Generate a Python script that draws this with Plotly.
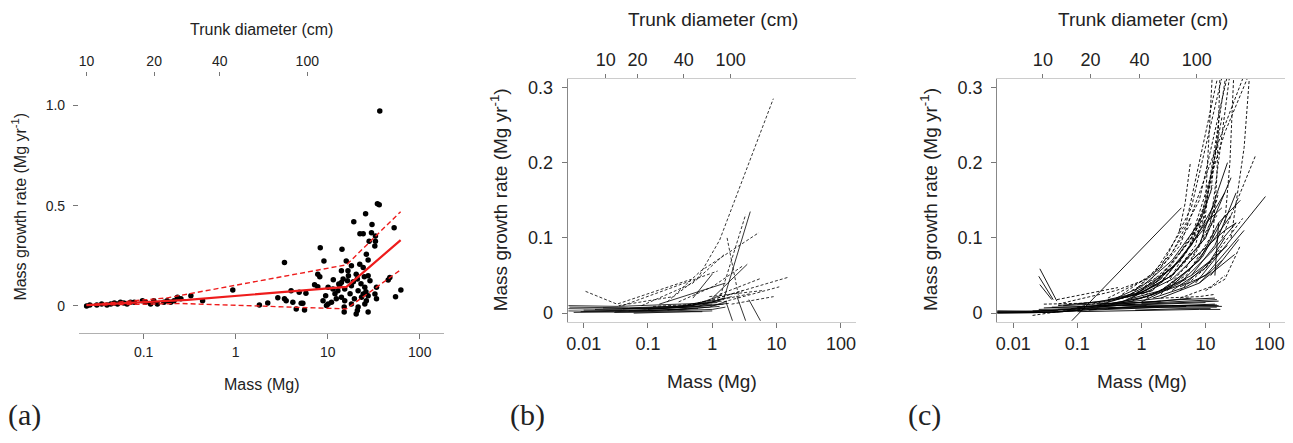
import plotly.graph_objects as go

# page offsets the plot div by the default 8px body margin
PAGE_W, PAGE_H, OFF = 1293, 443, 8
W, H = PAGE_W - OFF, PAGE_H - OFF

# --- (a) individual trees: mass (Mg) vs mass growth rate (Mg/yr) ---
mass_a = [36.8, 34.7, 36.3, 25.8, 19.2, 30.3, 52.7, 22.4, 24.3, 29.9, 33, 33, 32.5, 28.2,
          8.3, 14.3, 26.3, 3.39, 9.1, 27.5, 15.9, 18.1, 22.3, 24.3, 14.1, 7.8, 8.2,
          16.6, 16.8, 16.4, 20.4, 21, 25, 27.5, 28.8, 14.7, 14.1, 13.2, 47.3, 45.4,
          7.2, 7.8, 10.1, 11.4, 12.9, 15.3, 18.1, 21.4, 25.3, 24.3, 27.5, 33.9, 62.4, 54.6,
          4.0, 4.9, 5.8, 2.87, 3.39, 3.54, 4.18, 5.15, 5.37, 4.55, 5.6, 1.81, 2.23,
          8.9, 10.1, 11, 9.7, 12.4, 14.1, 15.3, 15.1, 15.1, 18.1, 19.5, 21.4, 20.4, 21,
          23.3, 26.3, 25.3, 27.5, 33.9, 32.6, 0.93,
          12, 13.5, 11.5, 17.5, 19, 23, 26, 9.5,
          0.437, 0.326, 0.233, 0.214, 0.254, 0.18, 0.166, 0.197, 0.129, 0.119, 0.141,
          0.097, 0.105, 0.072, 0.079, 0.066, 0.056, 0.061, 0.052, 0.044, 0.040, 0.048,
          0.031, 0.035, 0.026, 0.024]
growth_a = [0.972, 0.51, 0.505, 0.46, 0.42, 0.406, 0.39, 0.36, 0.36, 0.365, 0.348, 0.323, 0.299, 0.323,
            0.29, 0.282, 0.257, 0.216, 0.224, 0.229, 0.224, 0.2, 0.208, 0.192, 0.175, 0.158, 0.145,
            0.175, 0.15, 0.125, 0.158, 0.134, 0.145, 0.15, 0.125, 0.134, 0.117, 0.109, 0.142, 0.129,
            0.105, 0.096, 0.093, 0.084, 0.076, 0.084, 0.1, 0.076, 0.093, 0.059, 0.051, 0.093, 0.079, 0.046,
            0.076, 0.068, 0.063, 0.04, 0.035, 0.026, 0.018, 0.013, 0.013, -0.015, -0.02, 0.005, 0.015,
            0.026, 0.01, 0.018, 0.002, 0.035, 0.043, 0.026, -0.031, -0.006, 0.01, 0.035, -0.006, -0.04, -0.023,
            0.043, 0.026, 0.01, -0.031, 0.035, 0.059, 0.079,
            0.06, 0.1, 0.13, 0.06, 0.12, 0.11, 0.07, 0.05,
            0.026, 0.051, 0.043, 0.026, 0.035, 0.026, 0.018, 0.018, 0.026, 0.01, 0.01,
            0.026, 0.018, 0.018, 0.018, 0.01, 0.018, 0.014, 0.01, 0.01, 0.005, 0.014,
            0.005, 0.01, 0.005, 0.0]

# fitted piecewise model and its bounds
fit_mass = [0.024, 0.3, 16, 62]
fit_mid = [0.004, 0.03, 0.095, 0.328]
fit_up_mass = [0.024, 0.18, 16, 62]
fit_up = [0.005, 0.04, 0.205, 0.47]
fit_lo_mass = [0.024, 0.25, 16, 62]
fit_lo = [0.003, 0.012, -0.015, 0.18]

# trunk diameter ticks (cm) and the mass they sit at on each panel
diam_labels = ["10", "20", "40", "100"]
diam_mass_a = [0.024, 0.13, 0.67, 6.0]
diam_mass_b = [0.022, 0.069, 0.36, 1.93]
diam_mass_c = [0.029, 0.16, 0.93, 7.3]

# --- (b) growth trajectories: [(mass, growth), ...] ---
lines_b_solid = [
    [(0.0058, 0.010), (0.035, 0.009), (0.3, 0.012), (1.2, 0.014)],
    [(0.0058, 0.003), (0.03, 0.002), (0.2, 0.004), (0.6, 0.006)],
    [(0.0058, 0.006), (0.04, 0.005), (0.5, 0.008), (1.5, 0.012)],
    [(0.007, 0.001), (0.1, 0.002), (1.0, 0.005), (1.6, 0.008)],
    [(0.01, 0.004), (0.08, 0.003), (0.4, 0.006)],
    [(0.02, 0.007), (0.15, 0.006), (0.8, 0.010), (1.8, 0.013)],
    [(0.05, 0.003), (0.3, 0.005), (1.3, 0.009)],
    [(0.2, 0.004), (0.9, 0.008), (1.7, 0.016)],
    [(0.03, 0.001), (0.2, 0.001), (0.7, 0.002)],
    [(0.006, 0.008), (0.05, 0.007), (0.4, 0.010), (1.4, 0.016)],
    [(0.009, 0.002), (0.06, 0.004), (0.6, 0.009), (1.5, 0.020)],
    [(0.015, 0.005), (0.12, 0.007), (1.0, 0.012)],
    [(0.04, 0.006), (0.3, 0.009), (1.1, 0.018)],
    [(0.1, 0.005), (0.5, 0.010), (1.4, 0.024)],
    [(0.3, 0.008), (1.0, 0.015), (2.0, 0.022)],
    [(0.06, 0.0), (0.4, 0.002), (1.0, 0.003)],
    [(1.5, 0.018), (3.9, 0.135)],
    [(1.0, 0.020), (3.5, 0.065)],
    [(1.62, 0.016), (2.06, -0.010)],
    [(2.4, 0.023), (3.3, -0.010)],
    [(3.7, 0.018), (5.6, -0.010)],
    [(0.5, 0.020), (1.0, 0.052)],
    [(0.15, 0.012), (1.6, 0.040)],
]
lines_b_dash = [
    [(0.0107, 0.029), (0.033, 0.012), (0.47, 0.045)],
    [(0.035, 0.010), (0.25, 0.022), (0.6, 0.047), (1.3, 0.097), (8.9, 0.285)],
    [(0.04, 0.010), (1.21, 0.056)],
    [(0.08, 0.010), (0.5, 0.040), (1.54, 0.078)],
    [(0.2, 0.015), (0.66, 0.056), (5.3, 0.107)],
    [(1.34, 0.023), (3.3, 0.131)],
    [(1.7, 0.100), (2.1, 0.060), (2.6, 0.020)],
    [(1.2, 0.020), (15.6, 0.048)],
    [(1.5, 0.015), (11, 0.035)],
    [(1.3, 0.025), (5.6, 0.046)],
    [(0.3, 0.015), (1.0, 0.035), (3.0, 0.063)],
    [(0.9, 0.022), (6.0, 0.030)],
    [(2.0, 0.012), (9.0, 0.022)],
    [(0.12, 0.009), (0.6, 0.012), (1.5, 0.018)],
    [(0.5, 0.012), (1.2, 0.020), (3.0, 0.030)],
    [(0.7, 0.015), (1.8, 0.020), (4.0, 0.026)],
]

# --- (c) growth trajectories ---
lines_c_solid = [
    [(0.0056, 0.0005), (0.03, 0.001), (0.1, 0.003)],
    [(0.0056, 0.0015), (0.05, 0.002), (0.2, 0.005)],
    [(0.0056, 0.0), (0.02, 0.0005), (0.06, 0.002)],
    [(0.0056, 0.001), (0.04, 0.001), (0.12, 0.004)],
    [(0.0056, 0.0025), (0.03, 0.003), (0.08, 0.005)],
    [(0.0056, 0.003), (0.02, 0.002), (0.05, 0.004)],
    [(0.025, 0.005), (0.1, 0.006), (0.4, 0.010)],
    [(0.04, 0.008), (0.2, 0.008), (0.8, 0.012)],
    [(0.06, 0.003), (0.3, 0.006), (1.2, 0.010)],
    [(0.1, 0.008), (0.5, 0.012), (2.0, 0.016)],
    [(0.15, 0.004), (1.0, 0.007), (5.0, 0.009)],
    [(0.3, 0.006), (2.0, 0.008), (15, 0.008)],
    [(0.5, 0.010), (3.0, 0.010), (16, 0.010)],
    [(0.8, 0.004), (4.0, 0.006), (12, 0.006)],
    [(1.0, 0.013), (5.0, 0.016), (15, 0.018)],
    [(3.0, 0.010), (10, 0.010), (18, 0.009)],
    [(0.2, 0.012), (1.5, 0.015), (6.0, 0.020)],
    [(0.02, 0.003), (0.2, 0.006), (2, 0.010), (14, 0.012)],
    [(0.03, 0.007), (0.3, 0.010), (3, 0.014), (16, 0.016)],
    [(0.05, 0.005), (0.5, 0.008), (6, 0.010), (15, 0.011)],
    [(0.1, 0.002), (1, 0.004), (8, 0.005), (17, 0.005)],
    [(0.4, 0.012), (4, 0.018), (14, 0.020)],
    [(0.15, 0.009), (1.5, 0.012), (10, 0.014)],
    [(0.06, 0.010), (0.5, 0.014), (2, 0.020)],
    [(0.05, 0.010), (0.2, 0.015), (0.6, 0.022), (1.5, 0.030)],
    [(0.08, 0.006), (0.3, 0.012), (1, 0.020), (3, 0.035)],
    [(0.1, 0.012), (0.4, 0.018), (1.2, 0.028)],
    [(0.2, 0.008), (0.7, 0.016), (2, 0.028), (5, 0.040)],
    [(0.026, 0.059), (0.048, 0.016)],
    [(0.025, 0.049), (0.042, 0.018)],
    [(0.026, 0.038), (0.040, 0.018)],
    [(0.082, -0.010), (4.2, 0.140)],
    [(7, 0.04), (86, 0.155)],
    [(8, 0.04), (28.5, 0.078)],
    [(12, 0.05), (33, 0.098)],
    [(0.4, 0.02), (1, 0.035), (3, 0.07), (8, 0.12)],
    [(0.5, 0.015), (2, 0.04), (6, 0.09), (15, 0.15)],
    [(0.7, 0.02), (3, 0.05), (10, 0.1), (25, 0.18)],
    [(1, 0.015), (4, 0.04), (12, 0.08), (30, 0.12)],
    [(6, 0.05), (14, 0.09), (30, 0.16)],
    [(3, 0.03), (10, 0.06), (20, 0.10)],
    [(2, 0.02), (8, 0.04), (18, 0.07)],
    [(1, 0.025), (3, 0.045), (8, 0.08)],
    [(0.2, 0.01), (0.8, 0.025), (2, 0.045)],
    [(0.5, 0.02), (1.5, 0.04), (4, 0.07)],
    [(14, 0.05), (16, 0.12)],
    [(8, 0.09), (15, 0.16), (22, 0.2)],
    [(6, 0.07), (20, 0.11), (30, 0.12)],
    [(0.3, 0.012), (1.2, 0.022), (5, 0.045)],
    [(2.5, 0.03), (9, 0.075), (20, 0.13)],
    [(0.8, 0.025), (3, 0.06), (9, 0.11), (20, 0.16)],
    [(1.2, 0.03), (4, 0.07), (10, 0.12), (18, 0.14)],
    [(2, 0.03), (6, 0.06), (14, 0.1), (25, 0.13)],
    [(3, 0.04), (8, 0.07), (16, 0.12), (35, 0.15)],
    [(4, 0.035), (10, 0.05), (20, 0.08), (40, 0.11)],
    [(1.5, 0.02), (5, 0.035), (12, 0.055)],
    [(0.6, 0.018), (2, 0.03), (6, 0.05), (12, 0.07)],
    [(5, 0.04), (12, 0.07), (22, 0.09)],
    [(0.3, 0.018), (1, 0.028), (3, 0.05), (6, 0.08)],
]
lines_c_dash = [
    [(0.02, -0.003), (0.05, 0.002), (0.15, 0.006)],
    [(0.03, 0.012), (0.1, 0.013), (0.3, 0.015)],
    [(2.0, 0.020), (8, 0.022), (14, 0.025)],
    [(0.048, 0.018), (0.43, 0.034)],
    [(0.05, 0.012), (0.4, 0.030), (1.2, 0.045)],
    [(0.3, 0.02), (1.5, 0.05), (5, 0.12), (17, 0.33)],
    [(0.5, 0.025), (2, 0.06), (6, 0.14), (20, 0.33)],
    [(0.6, 0.02), (3, 0.08), (8, 0.15), (24, 0.33)],
    [(1, 0.03), (4, 0.09), (12, 0.2), (46, 0.33)],
    [(1.5, 0.035), (6, 0.1), (20, 0.24), (55, 0.33)],
    [(3.9, 0.109), (4.8, 0.146), (5.8, 0.2)],
    [(18, 0.10), (60, 0.209)],
    [(10, 0.06), (38, 0.126)],
    [(1.2, 0.02), (5, 0.05), (14, 0.11)],
    [(2, 0.025), (6, 0.07), (15, 0.13)],
    [(0.3, 0.015), (1, 0.03), (2.5, 0.06)],
    [(0.8, 0.03), (2.5, 0.07), (6, 0.12)],
    [(1.5, 0.03), (5, 0.08), (10, 0.14), (22, 0.33)],
    [(2.5, 0.04), (7, 0.09), (15, 0.22)],
    [(3, 0.05), (9, 0.12), (18, 0.26)],
    [(5, 0.06), (12, 0.12), (25, 0.33)],
    [(4, 0.02), (12, 0.035), (20, 0.05)],
    [(13, 0.1), (15, 0.18), (17, 0.33)],
    [(20, 0.12), (24, 0.2), (28, 0.33)],
    [(25, 0.10), (40, 0.22), (50, 0.33)],
    [(9, 0.1), (11, 0.16), (14, 0.2)],
    [(10, 0.03), (20, 0.045), (35, 0.09)],
    [(0.1, 0.008), (0.5, 0.02), (1.2, 0.03)],
    [(4, 0.08), (9, 0.13), (13, 0.17)],
    [(1, 0.02), (4, 0.06), (10, 0.1), (16, 0.16)],
    [(2, 0.045), (6, 0.1), (12, 0.16), (16, 0.25)],
    [(4, 0.03), (10, 0.06), (18, 0.085)],
    [(0.7, 0.03), (2, 0.05), (5, 0.09), (10, 0.13)],
    [(6, 0.09), (10, 0.15), (13, 0.33)],
]


def flatten(lines):
    xs, ys = [], []
    for ln in lines:
        for m, g in ln:
            xs.append(m)
            ys.append(g)
        xs.append(None)
        ys.append(None)
    return xs, ys


# screen pixel -> paper fraction
def fx(p):
    return (p - OFF) / W


def fy(p):
    return 1 - (p - OFF) / H


SANS = "Liberation Sans, Arial, sans-serif"
SERIF = "Liberation Serif, Times New Roman, serif"
TXT = "#222222"
RED = "#ee1c1c"

fig = go.Figure()

# panel (a)
fig.add_trace(go.Scatter(x=mass_a, y=growth_a, mode="markers",
                         marker=dict(color="black", size=5.5), xaxis="x", yaxis="y"))
fig.add_trace(go.Scatter(x=fit_up_mass, y=fit_up, mode="lines",
                         line=dict(color=RED, width=1.4, dash="5px,3px"), xaxis="x", yaxis="y"))
fig.add_trace(go.Scatter(x=fit_lo_mass, y=fit_lo, mode="lines",
                         line=dict(color=RED, width=1.4, dash="5px,3px"), xaxis="x", yaxis="y"))
fig.add_trace(go.Scatter(x=fit_mass, y=fit_mid, mode="lines",
                         line=dict(color=RED, width=2.2), xaxis="x", yaxis="y"))
fig.add_trace(go.Scatter(x=[], y=[], xaxis="x2", yaxis="y"))

# panel (b)
xs, ys = flatten(lines_b_solid)
fig.add_trace(go.Scatter(x=xs, y=ys, mode="lines", line=dict(color="black", width=0.8),
                         xaxis="x3", yaxis="y3"))
xs, ys = flatten(lines_b_dash)
fig.add_trace(go.Scatter(x=xs, y=ys, mode="lines",
                         line=dict(color="black", width=0.8, dash="3px,2px"),
                         xaxis="x3", yaxis="y3"))
fig.add_trace(go.Scatter(x=[], y=[], xaxis="x4", yaxis="y3"))

# panel (c)
xs, ys = flatten(lines_c_solid)
fig.add_trace(go.Scatter(x=xs, y=ys, mode="lines", line=dict(color="black", width=0.9),
                         xaxis="x5", yaxis="y5"))
xs, ys = flatten(lines_c_dash)
fig.add_trace(go.Scatter(x=xs, y=ys, mode="lines",
                         line=dict(color="black", width=0.9, dash="3px,2px"),
                         xaxis="x5", yaxis="y5"))
fig.add_trace(go.Scatter(x=[], y=[], xaxis="x6", yaxis="y5"))

fig.update_traces(showlegend=False, hoverinfo="skip")

mass_ticks_a = [0.1, 1, 10, 100]
mass_ticks_bc = [0.01, 0.1, 1, 10, 100]


def xbottom(dom, rng, tickvals, size, anchor, line_color):
    return dict(domain=dom, range=rng, type="log", anchor=anchor, showgrid=False, zeroline=False,
                showline=True, linecolor=line_color, linewidth=1, ticks="outside", ticklen=5,
                tickcolor="#777", tickvals=tickvals, ticktext=[f"{v:g}" for v in tickvals],
                tickfont=dict(family=SANS, size=size, color=TXT), ticklabelstandoff=1)


def xtop(over, rng, tickvals, size, anchor, showline):
    return dict(overlaying=over, side="top", range=rng, type="log", anchor=anchor,
                showgrid=False, zeroline=False, showline=showline, linecolor="#cccccc",
                ticks="outside", ticklen=4, tickcolor="#777", tickvals=tickvals,
                ticktext=diam_labels, tickfont=dict(family=SANS, size=size, color=TXT))


def yleft(dom, rng, tickvals, ticktext, size, anchor, showline):
    return dict(domain=dom, range=rng, anchor=anchor, showgrid=False, zeroline=False,
                showline=showline, linecolor="#888", linewidth=1, ticks="outside", ticklen=5,
                tickcolor="#777", tickvals=tickvals, ticktext=ticktext,
                tickfont=dict(family=SANS, size=size, color=TXT), ticklabelstandoff=5)


rng_a = [-1.703, 2.26]
rng_bc = [-2.25, 2.24]
ydom_a = [fy(334), fy(76)]
ydom_bc = [fy(323), fy(78)]

fig.update_layout(
    width=W, height=H,
    margin=dict(l=0, r=0, t=0, b=0),
    paper_bgcolor="white", plot_bgcolor="white",
    xaxis=xbottom([fx(78), fx(443)], rng_a, mass_ticks_a, 14, "y", "#b0b0b0"),
    xaxis2=xtop("x", rng_a, diam_mass_a, 14, "y", False),
    yaxis=yleft(ydom_a, [-0.134, 1.144], [0, 0.5, 1.0], ["0", "0.5", "1.0"], 14, "x", False),
    xaxis3=xbottom([fx(567), fx(856)], rng_bc, mass_ticks_bc, 18, "y3", "#cccccc"),
    xaxis4=xtop("x3", rng_bc, diam_mass_b, 18, "y3", True),
    yaxis3=yleft(ydom_bc, [-0.0115, 0.3118], [0, 0.1, 0.2, 0.3], ["0", "0.1", "0.2", "0.3"], 18, "x3", True),
    xaxis5=xbottom([fx(997), fx(1285)], rng_bc, mass_ticks_bc, 18, "y5", "#cccccc"),
    xaxis6=xtop("x5", rng_bc, diam_mass_c, 18, "y5", True),
    yaxis5=yleft(ydom_bc, [-0.0115, 0.3118], [0, 0.1, 0.2, 0.3], ["0", "0.1", "0.2", "0.3"], 18, "x5", True),
)

ann = []


def label(text, x, y, size, angle=0, family=SANS):
    ann.append(dict(text=text, x=fx(x), y=fy(y), xref="paper", yref="paper", showarrow=False,
                    xanchor="center", yanchor="middle", textangle=angle,
                    font=dict(family=family, size=size, color=TXT)))


ylab = "Mass growth rate (Mg yr<sup>-1</sup>)"
label("Trunk diameter (cm)", 261, 29, 16)
label("Mass (Mg)", 261, 386, 16)
label(ylab, 18, 207, 16, -90)
label("Trunk diameter (cm)", 713, 19, 19)
label("Mass (Mg)", 712, 383, 19)
label(ylab, 498, 200, 19, -90)
label("Trunk diameter (cm)", 1143, 19, 19)
label("Mass (Mg)", 1142, 383, 19)
label(ylab, 928, 200, 19, -90)
label("(a)", 24, 417, 30, family=SERIF)
label("(b)", 527, 417, 30, family=SERIF)
label("(c)", 924, 417, 30, family=SERIF)
fig.update_layout(annotations=ann)

fig.write_html("out.html")
